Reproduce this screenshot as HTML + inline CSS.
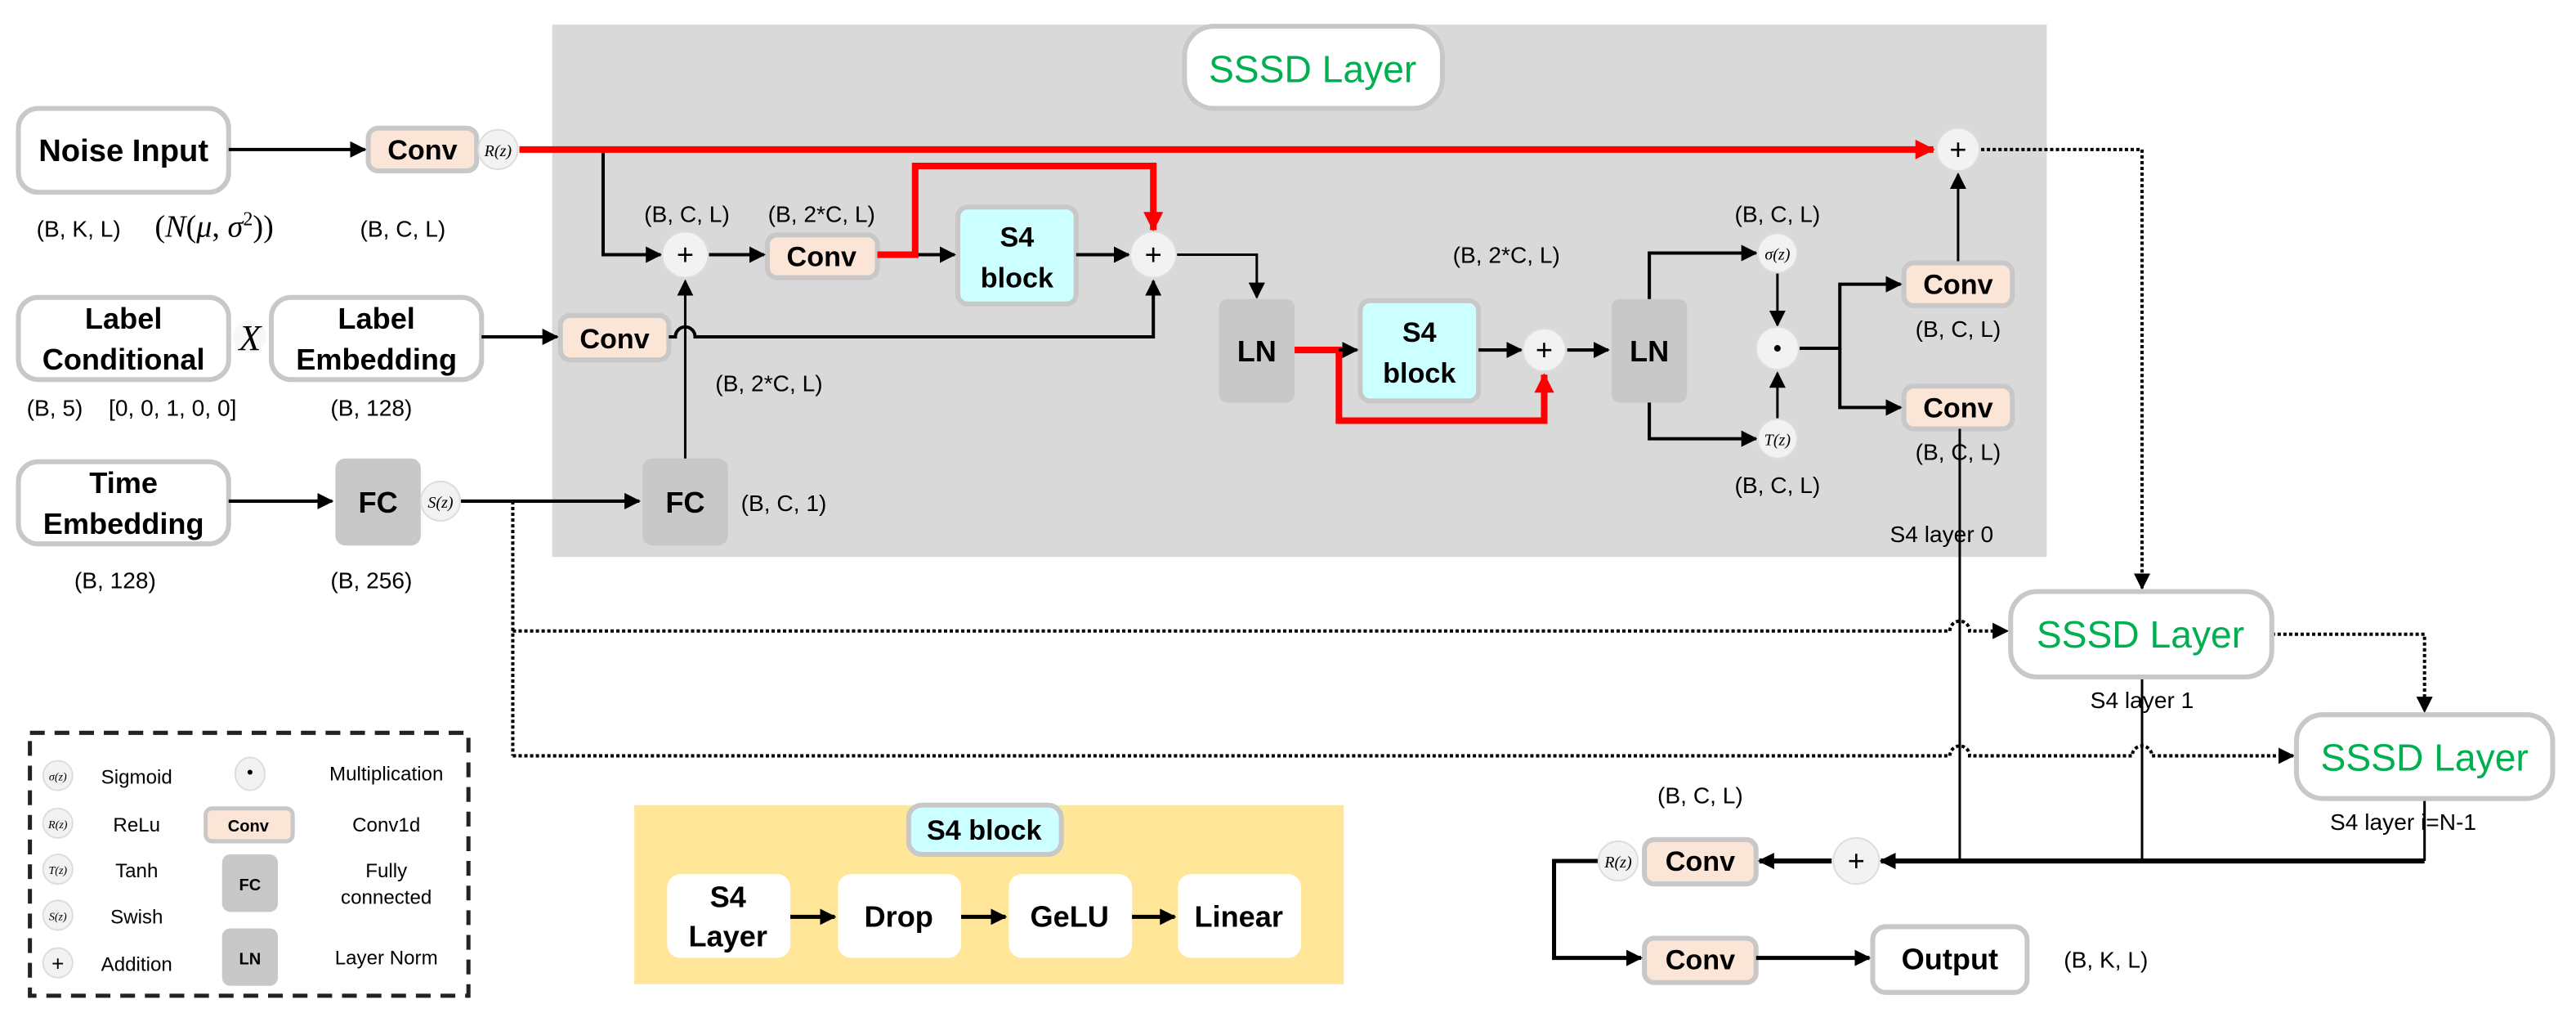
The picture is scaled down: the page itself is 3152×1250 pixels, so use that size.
<!DOCTYPE html>
<html><head><meta charset="utf-8"><style>
html,body{margin:0;padding:0;background:#fff}
svg{display:block}
text{font-family:"Liberation Sans Narrow","Liberation Sans",sans-serif;fill:#000}
.b{font-weight:bold}
.m{font-family:"Liberation Serif",serif;font-style:italic}
</style></head><body>
<svg width="3152" height="1250" viewBox="0 0 1568 622" xmlns="http://www.w3.org/2000/svg">
<defs>
<marker id="a" markerUnits="userSpaceOnUse" markerWidth="10" markerHeight="10" refX="9" refY="5" orient="auto"><path d="M0,0 L10,5 L0,10 z" fill="#000"/></marker>
<marker id="r" markerUnits="userSpaceOnUse" markerWidth="12" markerHeight="12" refX="11" refY="6" orient="auto"><path d="M0,0 L12,6 L0,12 z" fill="#f00"/></marker>
</defs>
<rect x="336" y="15" width="910" height="324" fill="#d9d9d9"/>
<rect x="721" y="16" width="157" height="50" rx="18" fill="#fff" stroke="#c8c8c8" stroke-width="3"/>
<text x="799" y="50" font-size="23" text-anchor="middle" style="fill:#00b050">SSSD Layer</text>

<g fill="#fff" stroke="#c8c8c8" stroke-width="3">
<rect x="11" y="66" width="128" height="51" rx="12"/>
<rect x="11" y="181" width="128" height="50" rx="12"/>
<rect x="165" y="181" width="128" height="50" rx="12"/>
<rect x="11" y="281" width="128" height="50" rx="12"/>
</g>
<text class="b" x="75" y="98" font-size="19" text-anchor="middle">Noise Input</text>
<text class="b" x="75" y="200" font-size="18" text-anchor="middle">Label</text>
<text class="b" x="75" y="225" font-size="18" text-anchor="middle">Conditional</text>
<text class="b" x="229" y="200" font-size="18" text-anchor="middle">Label</text>
<text class="b" x="229" y="225" font-size="18" text-anchor="middle">Embedding</text>
<text class="b" x="75" y="300" font-size="18" text-anchor="middle">Time</text>
<text class="b" x="75" y="325" font-size="18" text-anchor="middle">Embedding</text>

<text x="22" y="144" font-size="14">(B, K, L)</text>
<text x="94" y="144" font-size="19" class="m" style="font-style:normal">(<tspan font-style="italic">N</tspan>(<tspan font-style="italic">μ</tspan>, <tspan font-style="italic">σ</tspan><tspan dy="-7" font-size="12">2</tspan><tspan dy="7">))</tspan></text>
<text x="219" y="144" font-size="14">(B, C, L)</text>
<text x="16" y="253" font-size="14">(B, 5)</text>
<text x="66" y="253" font-size="14">[0, 0, 1, 0, 0]</text>
<text x="201" y="253" font-size="14">(B, 128)</text>
<text x="45" y="358" font-size="14">(B, 128)</text>
<text x="201" y="358" font-size="14">(B, 256)</text>

<g fill="#fbe5d6" stroke="#c8c8c8" stroke-width="3">
<rect x="224" y="78" width="66" height="26" rx="6"/>
<rect x="467" y="143" width="67" height="26" rx="6"/>
<rect x="341" y="192" width="66" height="27" rx="6"/>
<rect x="1159" y="160" width="66" height="26" rx="6"/>
<rect x="1159" y="235" width="66" height="26" rx="6"/>
<rect x="1001" y="511" width="68" height="27" rx="6"/>
<rect x="1001" y="571" width="68" height="27" rx="6"/>
</g>
<g font-size="17" text-anchor="middle">
<text x="257" y="97" class="b">Conv</text>
<text x="500" y="162" class="b">Conv</text>
<text x="374" y="212" class="b">Conv</text>
<text x="1192" y="179" class="b">Conv</text>
<text x="1192" y="254" class="b">Conv</text>
<text x="1035" y="530" class="b">Conv</text>
<text x="1035" y="590" class="b">Conv</text>
</g>

<g fill="#c8c8c8">
<rect x="204" y="279" width="52" height="53" rx="6"/>
<rect x="391" y="279" width="52" height="53" rx="6"/>
<rect x="742" y="182" width="46" height="63" rx="5"/>
<rect x="981" y="182" width="46" height="63" rx="5"/>
</g>
<text class="b" x="230" y="312" font-size="18" text-anchor="middle">FC</text>
<text class="b" x="417" y="312" font-size="18" text-anchor="middle">FC</text>
<text class="b" x="765" y="220" font-size="18" text-anchor="middle">LN</text>
<text class="b" x="1004" y="220" font-size="18" text-anchor="middle">LN</text>

<g fill="#ccffff" stroke="#c8c8c8" stroke-width="3">
<rect x="583" y="126" width="72" height="59" rx="6"/>
<rect x="828" y="183" width="72" height="61" rx="6"/>
</g>
<text class="b" x="619" y="150" font-size="17" text-anchor="middle">S4</text>
<text class="b" x="619" y="175" font-size="17" text-anchor="middle">block</text>
<text class="b" x="864" y="208" font-size="17" text-anchor="middle">S4</text>
<text class="b" x="864" y="233" font-size="17" text-anchor="middle">block</text>

<g stroke="#000" stroke-width="2" fill="none">
<path d="M139,91 H222" marker-end="url(#a)"/>
<path d="M367,91 V155 H402" marker-end="url(#a)"/>
<path d="M431,155 H465" marker-end="url(#a)"/>
<path d="M557,155 H581" marker-end="url(#a)"/>
<path d="M655,155 H687" marker-end="url(#a)"/>
<path d="M716,155 H765 V181" stroke-width="1.5" marker-end="url(#a)"/>
<path d="M293,205 H339" marker-end="url(#a)"/>
<path d="M407,205 H411 A6,6 0 0 1 423,205 H702 V171" marker-end="url(#a)"/>
<path d="M417,279 V171" stroke-width="1.5" marker-end="url(#a)"/>
<path d="M139,305 H202" marker-end="url(#a)"/>
<path d="M280,305 H389" marker-end="url(#a)"/>
<path d="M900,213 H926" marker-end="url(#a)"/>
<path d="M954,213 H979" marker-end="url(#a)"/>
<path d="M1004,182 V154 H1069" marker-end="url(#a)"/>
<path d="M1004,245 V267 H1069" marker-end="url(#a)"/>
<path d="M1082,166 V198" stroke-width="1.5" marker-end="url(#a)"/>
<path d="M1082,255 V227" stroke-width="1.5" marker-end="url(#a)"/>
<path d="M1095,212 H1120 V173 H1157" marker-end="url(#a)"/>
<path d="M1120,212 V248 H1157" marker-end="url(#a)"/>
<path d="M1192,159 V106" stroke-width="1.5" marker-end="url(#a)"/>
<path d="M1193,261 V524" stroke-width="1.5"/>
<path d="M1304,412 V524" stroke-width="1.5"/>
<path d="M1476,486 V524" stroke-width="1.5"/>
<path d="M1476,524 H1145" stroke-width="3" marker-end="url(#a)"/>
<path d="M1115,524 H1071" stroke-width="3" marker-end="url(#a)"/>
<path d="M973,524 H946 V583 H999" stroke-width="2.5" marker-end="url(#a)"/>
<path d="M1069,583 H1138" stroke-width="2.5" marker-end="url(#a)"/>
</g>
<g stroke="#f00" stroke-width="4" fill="none">
<path d="M316,91 H1177" marker-end="url(#r)"/>
<path d="M534,155 H557 V101 H702 V140" marker-end="url(#r)"/>
<path d="M788,213 H815 V256 H940 V228" marker-end="url(#r)"/>
</g>
<path d="M815,213 H826" stroke="#000" stroke-width="2" marker-end="url(#a)"/>

<g stroke="#000" stroke-width="2" fill="none" stroke-dasharray="2,1.5">
<path d="M1206,91 H1304 V358" marker-end="url(#a)"/>
<path d="M312,305 V460"/>
<path d="M312,384 H1187 A6,6 0 0 1 1199,384 H1222" marker-end="url(#a)"/>
<path d="M312,460 H1187 A6,6 0 0 1 1199,460 H1298 A6,6 0 0 1 1310,460 H1396" marker-end="url(#a)"/>
<path d="M1383,386 H1476 V433" marker-end="url(#a)"/>
</g>

<g fill="#f2f2f2" stroke="#ddd" stroke-width="1">
<circle cx="303" cy="91" r="12"/>
<circle cx="417" cy="155" r="14"/>
<circle cx="702" cy="155" r="14"/>
<circle cx="940" cy="213" r="13"/>
<circle cx="1082" cy="154" r="12"/>
<circle cx="1082" cy="212" r="13"/>
<circle cx="1082" cy="267" r="12"/>
<circle cx="1192" cy="91" r="13"/>
<circle cx="1130" cy="524" r="14"/>
<circle cx="985" cy="524" r="12"/>
<circle cx="268" cy="305" r="12"/>
</g>
<circle cx="152" cy="205" r="10" fill="#f7f7f7"/>
<text class="m" x="152" y="213" font-size="22" text-anchor="middle">X</text>
<g font-size="10" text-anchor="middle">
<text x="303" y="95" class="m">R(z)</text>
<text x="268" y="309" class="m">S(z)</text>
<text x="1082" y="158" class="m">σ(z)</text>
<text x="1082" y="271" class="m">T(z)</text>
<text x="985" y="528" class="m">R(z)</text>
</g>
<g font-size="18" text-anchor="middle">
<text x="417" y="161">+</text><text x="702" y="161">+</text><text x="940" y="219">+</text>
<text x="1192" y="97">+</text><text x="1130" y="530">+</text>
</g>
<circle cx="1082" cy="212" r="2" fill="#000"/>

<g font-size="14" text-anchor="middle">
<text x="418" y="135">(B, C, L)</text>
<text x="500" y="135">(B, 2*C, L)</text>
<text x="468" y="238">(B, 2*C, L)</text>
<text x="477" y="311">(B, C, 1)</text>
<text x="917" y="160">(B, 2*C, L)</text>
<text x="1082" y="135">(B, C, L)</text>
<text x="1082" y="300">(B, C, L)</text>
<text x="1192" y="205">(B, C, L)</text>
<text x="1192" y="280">(B, C, L)</text>
<text x="1182" y="330">S4 layer 0</text>
<text x="1304" y="431">S4 layer 1</text>
<text x="1463" y="505">S4 layer i=N-1</text>
<text x="1035" y="489">(B, C, L)</text>
<text x="1282" y="589">(B, K, L)</text>
</g>

<g fill="#fff" stroke="#c8c8c8" stroke-width="3">
<rect x="1224" y="360" width="159" height="52" rx="16"/>
<rect x="1398" y="435" width="156" height="51" rx="16"/>
<rect x="1140" y="564" width="94" height="40" rx="8"/>
</g>
<text x="1303" y="394" font-size="23" text-anchor="middle" style="fill:#00b050">SSSD Layer</text>
<text x="1476" y="469" font-size="23" text-anchor="middle" style="fill:#00b050">SSSD Layer</text>
<text class="b" x="1187" y="590" font-size="18" text-anchor="middle">Output</text>

<rect x="18" y="446" width="267" height="160" fill="none" stroke="#222" stroke-width="2.5" stroke-dasharray="9,6"/>
<g fill="#f2f2f2" stroke="#ddd">
<circle cx="35" cy="472" r="9"/><circle cx="35" cy="501" r="9"/><circle cx="35" cy="529" r="9"/><circle cx="35" cy="557" r="9"/><circle cx="35" cy="586" r="9"/>
<ellipse cx="152" cy="471" rx="9" ry="10"/>
</g>
<circle cx="152" cy="470" r="1.5" fill="#000"/>
<g font-size="7" text-anchor="middle">
<text x="35" y="475" class="m">σ(z)</text><text x="35" y="504" class="m">R(z)</text><text x="35" y="532" class="m">T(z)</text><text x="35" y="560" class="m">S(z)</text>
</g>
<text x="35" y="591" font-size="13" text-anchor="middle">+</text>
<rect x="125" y="492" width="53" height="20" rx="4" fill="#fbe5d6" stroke="#c8c8c8" stroke-width="2.5"/>
<text class="b" x="151" y="506" font-size="10" text-anchor="middle">Conv</text>
<rect x="135" y="520" width="34" height="35" rx="5" fill="#c8c8c8"/>
<text class="b" x="152" y="542" font-size="10" text-anchor="middle">FC</text>
<rect x="135" y="565" width="34" height="35" rx="5" fill="#c8c8c8"/>
<text class="b" x="152" y="587" font-size="10" text-anchor="middle">LN</text>
<g font-size="12" text-anchor="middle">
<text x="83" y="477">Sigmoid</text><text x="83" y="506">ReLu</text><text x="83" y="534">Tanh</text><text x="83" y="562">Swish</text><text x="83" y="591">Addition</text>
<text x="235" y="475">Multiplication</text><text x="235" y="506">Conv1d</text><text x="235" y="534">Fully</text><text x="235" y="550">connected</text><text x="235" y="587">Layer Norm</text>
</g>

<rect x="386" y="490" width="432" height="109" fill="#ffe699"/>
<rect x="553" y="490" width="93" height="30" rx="8" fill="#ccffff" stroke="#c8c8c8" stroke-width="3"/>
<text class="b" x="599" y="511" font-size="17" text-anchor="middle">S4 block</text>
<g fill="#fff">
<rect x="406" y="532" width="75" height="51" rx="8"/>
<rect x="510" y="532" width="75" height="51" rx="8"/>
<rect x="614" y="532" width="75" height="51" rx="8"/>
<rect x="717" y="532" width="75" height="51" rx="8"/>
</g>
<g font-size="18" text-anchor="middle">
<text x="443" y="552" class="b">S4</text><text x="443" y="576" class="b">Layer</text>
<text x="547" y="564" class="b">Drop</text><text x="651" y="564" class="b">GeLU</text><text x="754" y="564" class="b">Linear</text>
</g>
<g stroke="#000" stroke-width="2.5">
<path d="M481,558 H508" marker-end="url(#a)"/>
<path d="M585,558 H612" marker-end="url(#a)"/>
<path d="M689,558 H715" marker-end="url(#a)"/>
</g>
</svg>
</body></html>
